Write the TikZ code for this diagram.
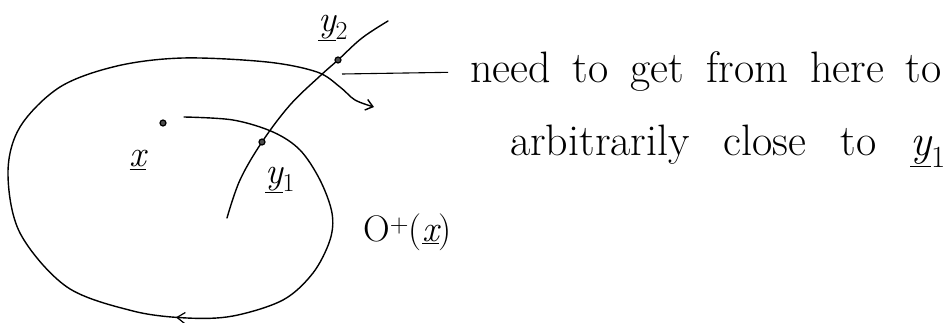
\documentclass[tikz,border=0pt]{standalone}
\usetikzlibrary{arrows.meta,decorations.markings}
\newcommand{\vecul}[1]{\underline{\itshape #1}}
\begin{document}
\begin{tikzpicture}[x=1pt,y=-1pt,
  curve/.style={line width=1.4pt,line cap=round,line join=round},
  dotnode/.style={circle,draw,line width=1.2pt,fill=black!70,inner sep=0pt,minimum size=6pt},
  lbl/.style={inner sep=1pt,font=\fontsize{37}{40}\selectfont},
  note/.style={inner sep=0pt,font=\fontsize{44}{48}\selectfont,anchor=west}]
\useasboundingbox (0,0) rectangle (945,323);
% points
\node[dotnode] (x) at (163,123) {};
\coordinate (ostart) at (184,117);
\coordinate (tbot) at (227,218);
\coordinate (ttop) at (388,21);
\coordinate (lead) at (342,74);
% orbit
\draw[curve,
  postaction={decorate,decoration={markings,mark=at position 0.375 with {\arrow[line width=1.2pt]{Straight Barb[length=8pt,width=11pt]}}}},
  -{Straight Barb[length=7pt,width=11pt]}]
  plot[smooth,tension=0.55] coordinates{
  (ostart) (233,120) (273,132) (300,150) (320,180) (332,213) (330,240) (313,273)
  (283,300) (233,316) (187,318) (133,311) (67,287) (20,233) (8,173) (20,127)
  (60,87) (117,66) (183,58) (267,62) (317,72) (340,87) (355,100) (374,107)};
% transversal
\draw[curve] plot[smooth,tension=0.6] coordinates{(tbot) (240,180) (262,142) (290,105) (320,76) (338,60) (362,38) (ttop)};
\node[dotnode] (y1) at (262,142) {};
\node[dotnode] (y2) at (338,60) {};
% labels
\node[lbl] (lx) at (138,160) {\vecul{x}};
\node[lbl] (ly1) at (280,180) {\vecul{y}\textsubscript{1}};
\node[lbl] (ly2) at (333,28) {\vecul{y}\textsubscript{2}};
\node[lbl,anchor=west] (lo) at (362,232) {O\textsuperscript{+}(\vecul{x})};
% note
\node[note] (n1) at (470,72) {\spaceskip=22pt need to get from here to};
\node[note] (n2) at (510,146) {\spaceskip=34pt arbitrarily close to \vecul{y}\textsubscript{1}};
\draw[line width=1.1pt,shorten >=22pt] (lead) -- (n1.west);
\end{tikzpicture}
\end{document}
